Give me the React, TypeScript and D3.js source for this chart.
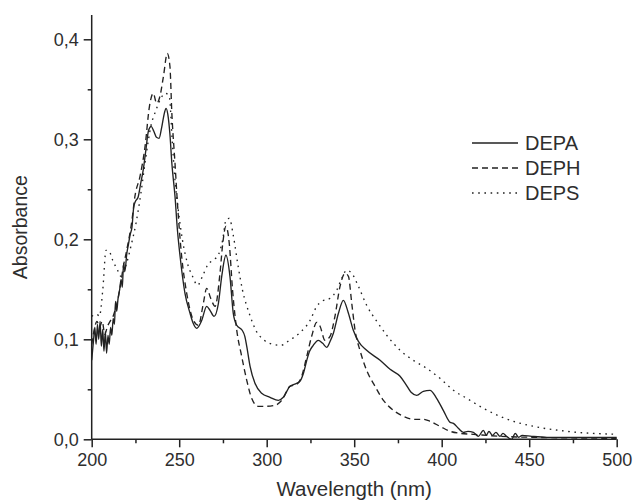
import React, { useEffect, useRef } from 'react';
import * as d3 from 'd3';

// spectra: [wavelength nm, absorbance]
const DEPA: [number, number][] = [
  [200, 0.079], [201, 0.098], [201.8, 0.112], [202.5, 0.095], [203.3, 0.115], [204, 0.1],
  [204.8, 0.118], [205.5, 0.093], [206.3, 0.11], [207, 0.088], [207.8, 0.108], [208.5, 0.086],
  [209.3, 0.104], [210, 0.095], [210.8, 0.112], [211.5, 0.104], [212.3, 0.121], [213, 0.115],
  [213.6, 0.138], [214.3, 0.128], [215, 0.14], [216, 0.15], [216.8, 0.16], [217.5, 0.152],
  [218.2, 0.176], [219, 0.168], [220, 0.185], [221, 0.195], [222, 0.205], [223, 0.212],
  [224, 0.232], [225, 0.238], [226.5, 0.242], [228, 0.256], [229.5, 0.27], [231, 0.29],
  [232.5, 0.309], [234, 0.313], [235.5, 0.308], [237, 0.302], [238.5, 0.301], [240, 0.312],
  [241.5, 0.326], [242.5, 0.331], [243.5, 0.325], [244.7, 0.305], [245.8, 0.276], [247.6, 0.243],
  [249, 0.209], [250.5, 0.183], [253.3, 0.146], [256.2, 0.126], [258, 0.116], [260, 0.111],
  [262.9, 0.119], [265.7, 0.133], [267.6, 0.129], [269.9, 0.123], [272.4, 0.136], [274.3, 0.163],
  [276.7, 0.184], [279, 0.163], [280.9, 0.126], [282.9, 0.114], [286, 0.109], [287.5, 0.103],
  [288.6, 0.093], [290.5, 0.073], [293.3, 0.056], [297.1, 0.046], [301.9, 0.042], [306.7, 0.039],
  [309.5, 0.042], [313.3, 0.053], [317.1, 0.056], [319, 0.058], [321, 0.066], [322.9, 0.079],
  [324.5, 0.088], [326.6, 0.094], [329.5, 0.099], [332, 0.096], [334.3, 0.092], [336, 0.097],
  [338.1, 0.106], [341, 0.126], [343.8, 0.139], [346.7, 0.126], [349.5, 0.109], [352.4, 0.098],
  [357.1, 0.089], [364.8, 0.079], [370.5, 0.07], [376.2, 0.063], [379.5, 0.055], [382.5, 0.047],
  [385.7, 0.044], [389.5, 0.048], [393.3, 0.049], [397.1, 0.041], [400.9, 0.029], [404.8, 0.017],
  [406.7, 0.016], [409.5, 0.011], [412.4, 0.007], [415, 0.008], [418.1, 0.007], [421, 0.003],
  [423.8, 0.009], [425.5, 0.004], [427, 0.008], [429, 0.004], [431, 0.007], [433.3, 0.003],
  [435, 0.006], [437, 0.003], [440, 0.0], [442, 0.006], [444, 0.002], [446, 0.004],
  [451.4, 0.003], [460, 0.002], [480, 0.002], [500, 0.002],
];

const DEPH: [number, number][] = [
  [200, 0.095], [201.5, 0.11], [203, 0.118], [204.5, 0.112], [206, 0.118], [207.5, 0.105],
  [209, 0.113], [210.5, 0.118], [212, 0.122], [213.5, 0.13], [215, 0.14], [216.5, 0.155],
  [218, 0.172], [220, 0.189], [223, 0.219], [224.7, 0.243], [227.6, 0.263], [230.5, 0.293],
  [233, 0.333], [235.2, 0.346], [237.1, 0.336], [239, 0.343], [241, 0.363], [243.2, 0.386],
  [244.7, 0.373], [245.8, 0.326], [247.6, 0.276], [249, 0.236], [251.4, 0.183], [254.3, 0.146],
  [258.1, 0.119], [261, 0.114], [263.8, 0.136], [265.7, 0.151], [268, 0.141], [270.5, 0.133],
  [273.3, 0.166], [274.9, 0.196], [276.7, 0.213], [278.6, 0.196], [280.5, 0.149], [282.9, 0.109],
  [285.7, 0.083], [288.6, 0.059], [291.4, 0.041], [295.2, 0.033], [300, 0.033], [304.8, 0.034],
  [308.6, 0.039], [313.3, 0.053], [317.1, 0.055], [320, 0.063], [322.9, 0.083], [325.7, 0.103],
  [328.6, 0.117], [330.5, 0.113], [333.3, 0.099], [336.2, 0.103], [339, 0.123], [341.9, 0.153],
  [344.8, 0.166], [346.7, 0.163], [348.6, 0.136], [350.5, 0.109], [353.3, 0.089], [357.1, 0.069],
  [361.9, 0.053], [366.7, 0.039], [372.4, 0.029], [378.1, 0.023], [383.8, 0.02], [389.5, 0.02],
  [393.3, 0.018], [399, 0.013], [404.8, 0.008], [410.5, 0.006], [418, 0.005], [433, 0.003],
  [452, 0.002], [500, 0.001],
];

const DEPS: [number, number][] = [
  [200, 0.123], [203, 0.125], [204.4, 0.123], [206.3, 0.149], [208.2, 0.189], [210, 0.188],
  [212, 0.179], [214.8, 0.169], [216.7, 0.163], [219.6, 0.174], [222.4, 0.193], [225.3, 0.216],
  [228.1, 0.246], [231, 0.283], [233.8, 0.313], [236.7, 0.329], [239.5, 0.341], [242, 0.346],
  [244.3, 0.343], [246.2, 0.293], [247.6, 0.259], [249.5, 0.229], [251.9, 0.199], [254.7, 0.176],
  [257.6, 0.163], [260.5, 0.154], [263.3, 0.163], [266.2, 0.174], [269, 0.179], [271.9, 0.183],
  [274.8, 0.199], [276.7, 0.219], [278.6, 0.221], [281, 0.203], [283.4, 0.176], [286.2, 0.149],
  [290, 0.126], [293.8, 0.109], [298.6, 0.099], [303.4, 0.095], [308.1, 0.094], [312.9, 0.099],
  [318.6, 0.106], [324.8, 0.119], [328.6, 0.133], [331.4, 0.138], [336.2, 0.141], [340, 0.149],
  [342.9, 0.161], [345.7, 0.169], [348.6, 0.166], [352.4, 0.153], [357.1, 0.134], [362.9, 0.118],
  [368.6, 0.104], [376.2, 0.089], [383.8, 0.079], [391.4, 0.071], [399, 0.061], [406.7, 0.049],
  [414.3, 0.041], [423.8, 0.031], [433.3, 0.023], [442.9, 0.017], [452.4, 0.013], [471.4, 0.008],
  [500, 0.005],
];

const seriesNames = ['DEPA', 'DEPH', 'DEPS'];
const xTicks = [200, 250, 300, 350, 400, 450, 500];
const xMinor = [225, 275, 325, 375, 425, 475];
const yTicks = [0, 0.1, 0.2, 0.3, 0.4];
const yMinor = [0.05, 0.15, 0.25, 0.35];

const W = 635;
const H = 502;
const INK = '#222';
const TEXT = '#2e2e2e';
const FONT = 'Arial, "Liberation Sans", Helvetica, sans-serif';

const App = () => {
  const ref = useRef<SVGSVGElement>(null);

  useEffect(() => {
    const svg = d3.select(ref.current);
    svg.selectAll('*').remove();

    const x = d3.scaleLinear().domain([200, 500]).range([91.7, 616.7]);
    const y = d3.scaleLinear().domain([0, 0.4243]).range([439.3, 15]);
    const comma = d3.formatLocale({ decimal: ',', thousands: '.', grouping: [3], currency: ['', ''] }).format('.1f');

    const line = d3.line<[number, number]>()
      .x(d => x(d[0]))
      .y(d => y(d[1]))
      .curve(d3.curveMonotoneX);

    const styles = [
      { data: DEPA, dash: null },
      { data: DEPH, dash: '6,4' },
      { data: DEPS, dash: '1.6,4.6' },
    ];

    styles.forEach(s => {
      svg.append('path')
        .datum(s.data)
        .attr('d', line)
        .attr('fill', 'none')
        .attr('stroke', INK)
        .attr('stroke-width', 1.35)
        .attr('stroke-dasharray', s.dash);
    });

    // x axis
    const gx = svg.append('g').attr('transform', `translate(0,${y(0)})`);
    gx.call(d3.axisBottom(x).tickValues(xTicks).tickSize(8).tickPadding(6).tickFormat(d3.format('d')));
    gx.append('g').call(d3.axisBottom(x).tickValues(xMinor).tickSize(4).tickFormat(() => ''))
      .select('.domain').remove();

    // y axis
    const gy = svg.append('g').attr('transform', `translate(${x(200)},0)`);
    gy.call(d3.axisLeft(y).tickValues(yTicks).tickSize(8).tickPadding(5).tickFormat(d => comma(+d)));
    gy.append('g').call(d3.axisLeft(y).tickValues(yMinor).tickSize(4).tickFormat(() => ''))
      .select('.domain').remove();

    svg.selectAll('.domain').attr('stroke', INK).attr('stroke-width', 1.5);
    svg.selectAll('.tick line').attr('stroke', INK).attr('stroke-width', 1.5);
    svg.selectAll('.tick text').attr('fill', TEXT).attr('font-size', 18).attr('font-family', FONT);
    gx.selectAll('.domain').attr('d', `M${x(200)},0H${x(500)}`);
    gy.selectAll('.domain').attr('d', `M0,${y(0)}V${y(0.4243)}`);

    svg.append('text')
      .attr('x', (x(200) + x(500)) / 2)
      .attr('y', 496)
      .attr('text-anchor', 'middle')
      .attr('font-size', 20.5)
      .attr('font-family', FONT)
      .attr('fill', TEXT)
      .text('Wavelength (nm)');

    svg.append('text')
      .attr('transform', `translate(27,${(y(0) + y(0.4243)) / 2}) rotate(-90)`)
      .attr('text-anchor', 'middle')
      .attr('font-size', 19.5)
      .attr('font-family', FONT)
      .attr('fill', TEXT)
      .text('Absorbance');

    // legend
    const legend = svg.append('g').attr('transform', 'translate(472,143)');
    seriesNames.forEach((name, i) => {
      legend.append('line')
        .attr('x1', 0).attr('x2', 46)
        .attr('y1', i * 25).attr('y2', i * 25)
        .attr('stroke', INK)
        .attr('stroke-width', 1.35)
        .attr('stroke-dasharray', styles[i].dash);
      legend.append('text')
        .attr('x', 53)
        .attr('y', i * 25 + 7)
        .attr('font-size', 20)
        .attr('font-family', FONT)
        .attr('fill', TEXT)
        .text(name);
    });
  }, []);

  return (
    <svg
      ref={ref}
      width={W}
      height={H}
      style={{ position: 'absolute', left: 0, top: 0, background: '#fff' }}
    />
  );
};

export default App;
